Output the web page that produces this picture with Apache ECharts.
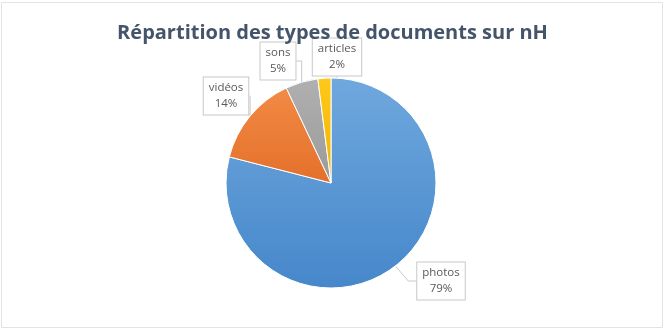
<!DOCTYPE html>
<html>
<head>
<meta charset="utf-8">
<script src="https://cdn.jsdelivr.net/npm/echarts@6/dist/echarts.min.js"></script>
<style>
  html, body { margin: 0; padding: 0; background: #fff; }
  #chart { width: 665px; height: 335px; }
</style>
</head>
<body>
<div id="chart"></div>
<script>
var categories = ['photos', 'vidéos', 'sons', 'articles'];
var values = [79, 14, 5, 2];
var topColors = ['#6fa8dd', '#f28a45', '#b0b0b0', '#ffc81a'];
var bottomColors = ['#4687cb', '#e4702a', '#9a9a9a', '#f0b400'];
// callout box centres
var calloutPos = [[441, 281], [226, 96], [278, 61], [337, 57]];

var chart = echarts.init(document.getElementById('chart'));

var data = categories.map(function (name, i) {
    return {
        name: name,
        value: values[i],
        itemStyle: {
            color: new echarts.graphic.LinearGradient(0, 0, 0, 1, [
                {offset: 0, color: topColors[i]},
                {offset: 1, color: bottomColors[i]}
            ])
        }
    };
});

chart.setOption({
    animation: false,
    title: {
        text: 'Répartition des types de documents sur nH',
        left: 'center',
        top: 18,
        textStyle: {
            fontFamily: 'Open Sans',
            fontWeight: 'bold',
            fontSize: 20,
            color: '#44546a'
        }
    },
    graphic: [{
        type: 'rect',
        shape: {x: 1.5, y: 2.5, width: 661, height: 325},
        style: {fill: 'none', stroke: '#e3e3e3', lineWidth: 1},
        silent: true
    }],
    series: [{
        type: 'pie',
        center: [331, 183],
        radius: 105,
        startAngle: 90,
        clockwise: true,
        itemStyle: {borderColor: '#fff', borderWidth: 1},
        label: {
            show: true,
            position: 'outside',
            formatter: '{b}\n{d}%',
            fontFamily: 'Open Sans',
            fontSize: 11.5,
            lineHeight: 16,
            color: '#595959',
            align: 'center',
            backgroundColor: '#fff',
            borderColor: '#c8c8c8',
            borderWidth: 1,
            padding: [3, 5, 2, 5]
        },
        labelLine: {
            show: true,
            length: 8,
            length2: 8,
            lineStyle: {color: '#c8c8c8', width: 1}
        },
        labelLayout: function (params) {
            var p = calloutPos[params.dataIndex];
            return {x: p[0], y: p[1], align: 'center', verticalAlign: 'middle'};
        },
        data: data
    }]
});
</script>
</body>
</html>
